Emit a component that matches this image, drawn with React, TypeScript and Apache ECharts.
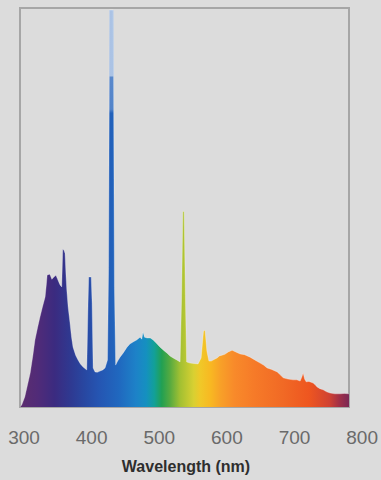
import React, { useEffect, useRef } from "react";
import * as echarts from "echarts";

// Spectrum: wavelength (nm) and relative intensity (0-100)
const wavelengths = [
  294, 296.5, 301, 305, 309, 313, 316, 320, 323.5, 327, 331, 333, 334, 338, 341, 344, 347, 349, 353, 355.5,
  357, 359, 360.4, 361.8, 363, 365, 367.7, 370, 372.2, 376, 379.5, 383, 387, 392.4, 394.3, 395.3, 399, 400.3,
  401.8, 404.6, 408, 412, 416, 419.4, 423, 424.6, 426, 431.5, 433.2, 435, 438, 441.5, 446, 451.8, 456, 460.7,
  466, 471, 473.5, 475.4, 477.5, 481.3, 486, 490.2, 495, 500.5, 505, 510.8, 515, 519.7, 525, 530, 532.3, 534,
  536, 537.8, 539.6, 544.7, 550, 556.5, 561, 564.5, 566.8, 569.5, 572.5, 576, 580, 584.6, 588, 591.9, 596, 601,
  606.7, 612, 618.5, 625, 633.2, 640, 648, 653, 658.3, 665, 673.1, 678, 682, 689, 696.7, 702, 707, 709.5, 711.4,
  713.5, 715.8, 720, 726.1, 729, 732, 736, 740.9, 746, 751.2, 758, 766, 772, 779,
];
const intensities = [
  0, 0.5, 2.5, 5.5, 8.5, 13, 16.8, 20, 22.6, 25, 27.6, 31, 33.1, 33.3, 32, 32.6, 33, 32.2, 30.6, 30.1,
  39.6, 39.2, 38.5, 33, 29.3, 25, 21.1, 17.5, 15, 13, 11.8, 10.8, 10, 9.3, 26, 32.6, 32.6, 26,
  9.8, 8.8, 8.7, 9, 9.3, 9.8, 11.8, 35, 99.5, 99.5, 30, 10.5, 11.5, 12.5, 13.5, 15, 15.8, 16.3,
  16.8, 17.5, 17, 18.8, 17.5, 17.3, 17.3, 16.8, 16, 15, 14.3, 13.5, 12.8, 12.3, 11.8, 11.3, 28, 49,
  49, 28, 11.3, 11, 10.9, 10.8, 12.3, 19, 19.3, 14, 11.5, 11.5, 11.9, 12.3, 12.8, 13, 13.2, 13.8,
  14.2, 13.8, 13.3, 13.1, 12.5, 11.8, 11, 10.5, 9.8, 9.4, 8.8, 8, 7.3, 7, 6.8, 6.8, 6.5, 7.5, 8.5,
  7, 6.3, 6.4, 6, 5.6, 5, 4.6, 4.3, 3.8, 3.5, 3.3, 3.3, 3.4, 3.3,
];

const tickLabels = ["300", "400", "500", "600", "700", "800"];
const axisTitle = "Wavelength (nm)";

const X_MIN = 294;
const X_MAX = 779;

// rainbow stops: wavelength -> colour
const stopNm = [294, 320, 345, 370, 390, 410, 440, 465, 480, 492, 503, 515, 530, 550, 560, 575, 590, 610, 640, 680, 720, 750, 765, 779];
const stopColors = [
  "#5c2d6e", "#512b78", "#3b2b80", "#2e3a92", "#2848a2", "#2555b2", "#2068bf", "#1d82c8", "#1590c0", "#12a098",
  "#22a052", "#55aa40", "#a2c032", "#d8d032", "#f0c828", "#f8b822", "#f8a028", "#f88a2a", "#f67a28", "#f16a25",
  "#ee5620", "#d04232", "#a03048", "#7a2855",
];

export default function App() {
  const ref = useRef<HTMLDivElement>(null);
  useEffect(() => {
    if (!ref.current) return;
    const chart = echarts.init(ref.current, null, { renderer: "svg" });
    const data = wavelengths.map((w, i) => [w, intensities[i]]);
    const gradient = new echarts.graphic.LinearGradient(
      0, 0, 1, 0,
      stopNm.map((nm, i) => ({ offset: (nm - X_MIN) / (X_MAX - X_MIN), color: stopColors[i] }))
    );
    const sheen = new echarts.graphic.LinearGradient(0, 0, 0, 1, [
      { offset: 0, color: "rgba(255,255,255,0.62)" },
      { offset: 0.165, color: "rgba(255,255,255,0.62)" },
      { offset: 0.17, color: "rgba(255,255,255,0.25)" },
      { offset: 0.25, color: "rgba(255,255,255,0.22)" },
      { offset: 0.26, color: "rgba(255,255,255,0)" },
      { offset: 1, color: "rgba(255,255,255,0)" },
    ]);
    chart.setOption({
      animation: false,
      backgroundColor: "#dcdcdc",
      grid: [
        { left: 20, top: 8, width: 329, height: 399, show: true, borderColor: "#a6a6a6", borderWidth: 2, backgroundColor: "transparent" },
        { left: 24, right: 18, top: 8, height: 399 },
      ],
      xAxis: [
        { type: "value", gridIndex: 0, min: X_MIN, max: X_MAX, show: false },
        {
          type: "value", gridIndex: 1, min: 300, max: 800, interval: 100,
          axisLine: { show: false }, axisTick: { show: false }, splitLine: { show: false },
          axisLabel: {
            margin: 21,
            color: "#6a6a6a",
            fontSize: 19,
            fontFamily: "'Liberation Sans', Arial, sans-serif",
            formatter: (v: number) => tickLabels[Math.round((v - 300) / 100)] ?? "",
          },
        },
      ],
      yAxis: [
        { type: "value", gridIndex: 0, min: 0, max: 100, show: false },
        { type: "value", gridIndex: 1, min: 0, max: 100, show: false },
      ],
      series: [
        {
          type: "line", xAxisIndex: 0, yAxisIndex: 0, data, showSymbol: false, smooth: false,
          lineStyle: { width: 1, color: "rgba(255,255,255,0.3)" },
          areaStyle: { color: gradient, opacity: 1 },
          z: 2,
        },
        {
          type: "line", xAxisIndex: 0, yAxisIndex: 0, data, showSymbol: false, smooth: false,
          lineStyle: { width: 0 },
          areaStyle: { color: sheen, opacity: 1 },
          silent: true,
          z: 3,
        },
      ],
      graphic: [
        {
          type: "text", x: 186, y: 458,
          style: {
            text: axisTitle, fill: "#2e2e2e", align: "center", verticalAlign: "top",
            font: "bold 16px 'Liberation Sans', Arial, sans-serif",
          },
        },
      ],
    });
    return () => chart.dispose();
  }, []);
  return <div ref={ref} style={{ width: 381, height: 480, position: "absolute", left: 0, top: 0 }} />;
}
